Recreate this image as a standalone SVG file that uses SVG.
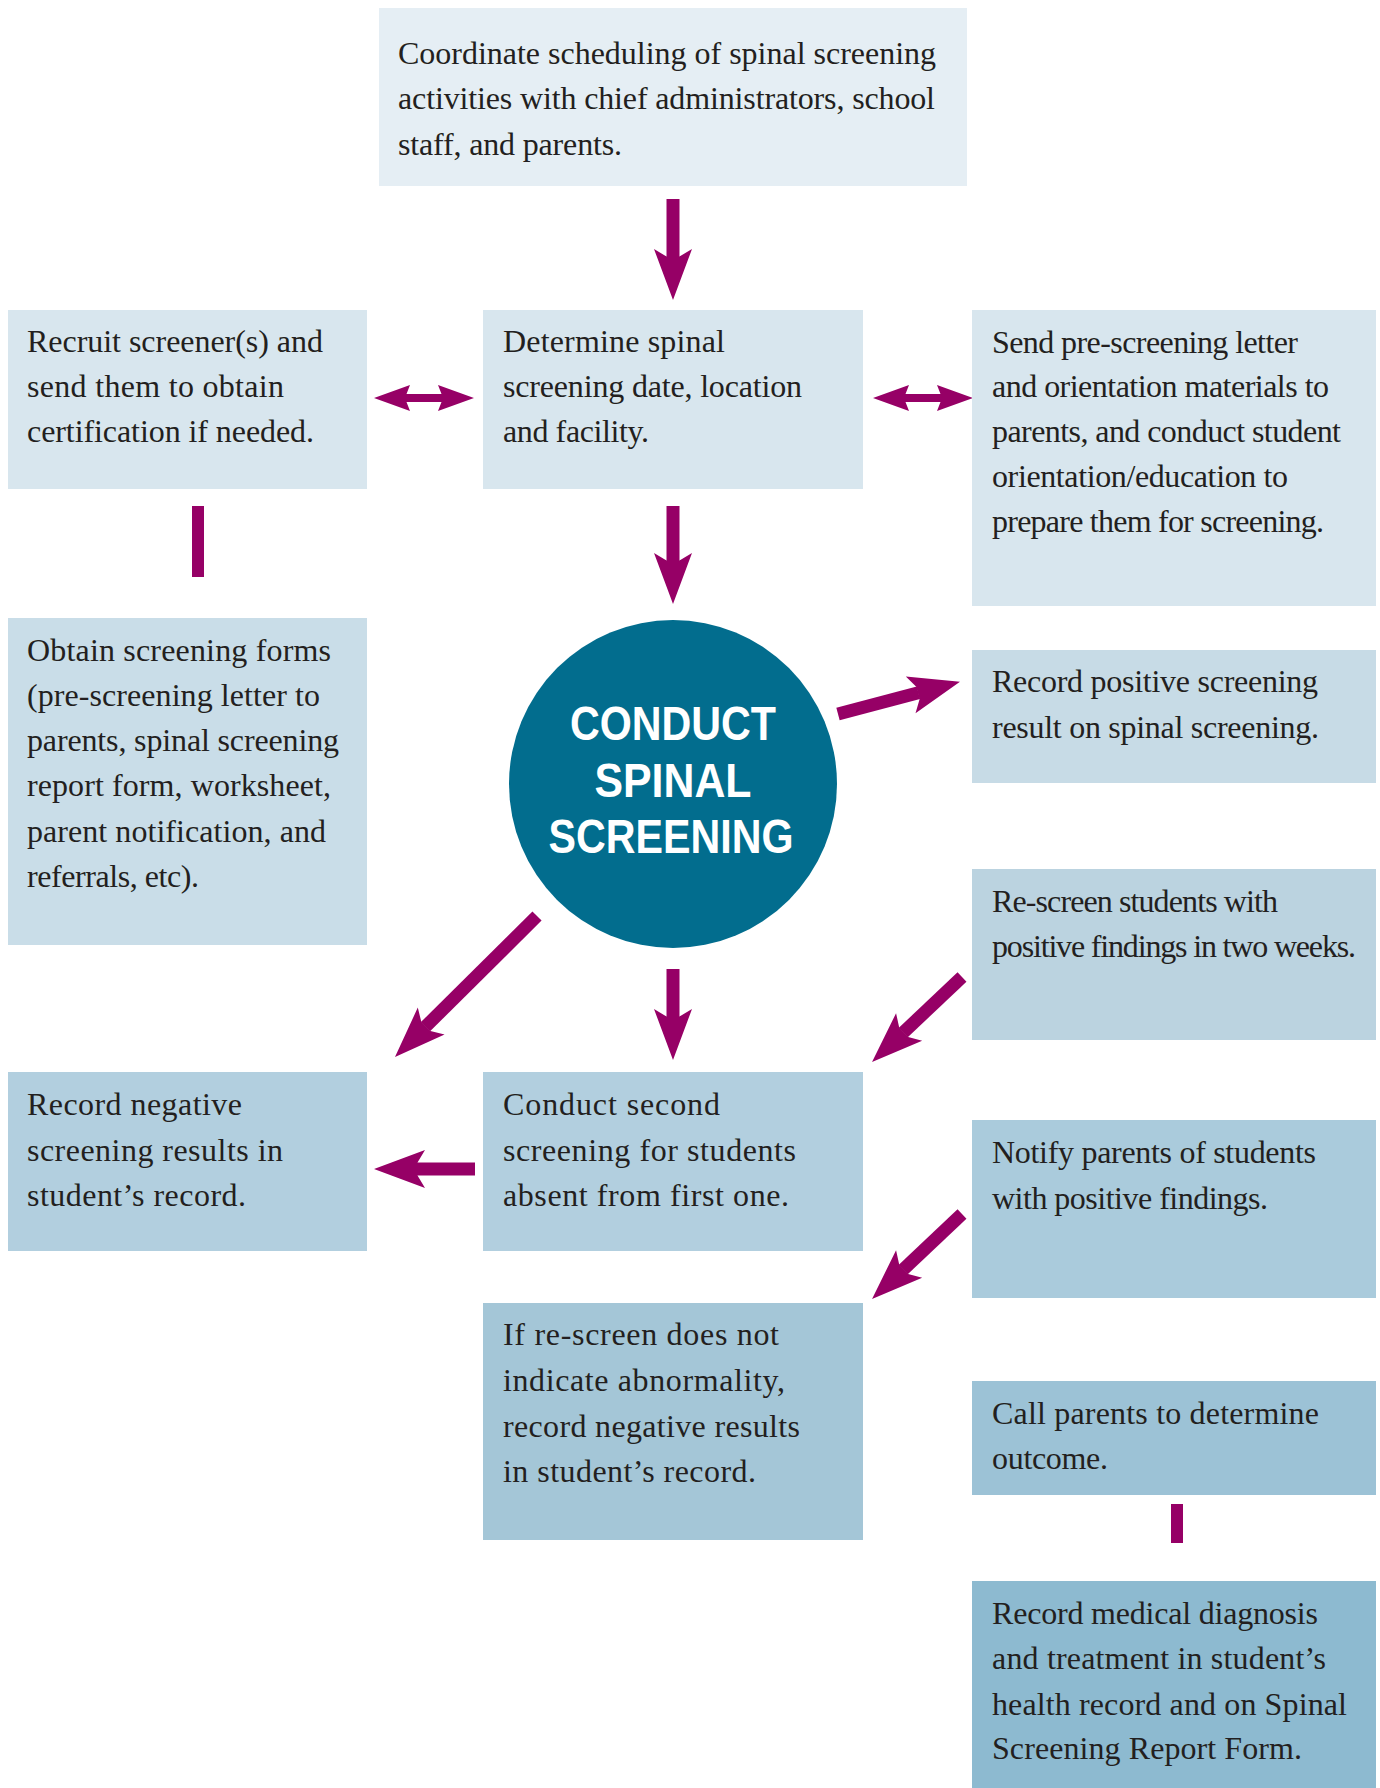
<svg xmlns="http://www.w3.org/2000/svg" width="1380" height="1788" viewBox="0 0 1380 1788">
<style>
  .t { font-family: "Liberation Serif", "Times New Roman", serif; font-size: 32px; fill: #231f20; }
  .c { font-family: "Liberation Sans", Arial, sans-serif; font-weight: bold; font-size: 49px; fill: #ffffff; text-anchor: middle; }
  .ln { stroke: #960066; stroke-width: 13; fill: none; marker-end: url(#ah); }
  .dl { stroke: #960066; stroke-width: 8; fill: none; marker-start: url(#ahs); marker-end: url(#ahs); }
  .bar { fill: #960066; }
</style>
<defs>
  <marker id="ah" markerUnits="userSpaceOnUse" orient="auto" viewBox="-10 -21 56 42" markerWidth="56" markerHeight="42" refX="0" refY="0">
    <path d="M43,0 L-8,19 L-0.5,6.5 L-0.5,-6.5 L-8,-19 Z" fill="#960066"/>
  </marker>
  <marker id="ahs" markerUnits="userSpaceOnUse" orient="auto-start-reverse" viewBox="-6 -15 40 30" markerWidth="40" markerHeight="30" refX="0" refY="0">
    <path d="M32,0 L-4,13 L-0.5,4 L-0.5,-4 L-4,-13 Z" fill="#960066"/>
  </marker>
</defs>
<rect width="1380" height="1788" fill="#ffffff"/>

<g id="connectors">
  <line class="ln" x1="673" y1="199" x2="673" y2="257"/>
  <line class="ln" x1="673" y1="506" x2="673" y2="561"/>
  <line class="dl" x1="406" y1="398" x2="442" y2="398"/>
  <line class="dl" x1="905" y1="398" x2="941" y2="398"/>
  <rect class="bar" x="192" y="506" width="12" height="71"/>
  <line class="ln" x1="838" y1="714" x2="918.4" y2="692.8"/>
  <line class="ln" x1="537" y1="916" x2="425.5" y2="1026.7"/>
  <line class="ln" x1="673" y1="969" x2="673" y2="1017"/>
  <line class="ln" x1="962" y1="977" x2="903.3" y2="1032.5"/>
  <line class="ln" x1="475" y1="1169" x2="417" y2="1169"/>
  <line class="ln" x1="962" y1="1214" x2="903.3" y2="1269.5"/>
  <rect class="bar" x="1171" y="1504" width="12" height="39"/>
</g>

<g id="n-coordinate">
  <rect x="379" y="8" width="588" height="178" fill="#e5eef4"/>
  <text class="t" x="398" y="64" textLength="538">Coordinate scheduling of spinal screening</text>
  <text class="t" x="398" y="109" textLength="537">activities with chief administrators, school</text>
  <text class="t" x="398" y="155" textLength="224">staff, and parents.</text>
</g>
<g id="n-recruit">
  <rect x="8" y="310" width="359" height="179" fill="#d8e6ee"/>
  <text class="t" x="27" y="352" textLength="296">Recruit screener(s) and</text>
  <text class="t" x="27" y="397" textLength="257">send them to obtain</text>
  <text class="t" x="27" y="442" textLength="287">certification if needed.</text>
</g>
<g id="n-determine">
  <rect x="483" y="310" width="380" height="179" fill="#d8e6ee"/>
  <text class="t" x="503" y="352" textLength="222">Determine spinal</text>
  <text class="t" x="503" y="397" textLength="299">screening date, location</text>
  <text class="t" x="503" y="442" textLength="146">and facility.</text>
</g>
<g id="n-send">
  <rect x="972" y="310" width="404" height="296" fill="#d8e6ee"/>
  <text class="t" x="992" y="353" textLength="306">Send pre-screening letter</text>
  <text class="t" x="992" y="397" textLength="337">and orientation materials to</text>
  <text class="t" x="992" y="442" textLength="349">parents, and conduct student</text>
  <text class="t" x="992" y="487" textLength="296">orientation/education to</text>
  <text class="t" x="992" y="532" textLength="332">prepare them for screening.</text>
</g>
<g id="n-obtain">
  <rect x="8" y="618" width="359" height="327" fill="#c9dde8"/>
  <text class="t" x="27" y="661" textLength="304">Obtain screening forms</text>
  <text class="t" x="27" y="706" textLength="293">(pre-screening letter to</text>
  <text class="t" x="27" y="751" textLength="312">parents, spinal screening</text>
  <text class="t" x="27" y="796" textLength="304">report form, worksheet,</text>
  <text class="t" x="27" y="842" textLength="299">parent notification, and</text>
  <text class="t" x="27" y="887" textLength="172">referrals, etc).</text>
</g>
<g id="n-conduct">
  <circle cx="673" cy="784" r="164" fill="#026d8e"/>
  <text class="c" x="673" y="740" textLength="206" lengthAdjust="spacingAndGlyphs">CONDUCT</text>
  <text class="c" x="673" y="797" textLength="157" lengthAdjust="spacingAndGlyphs">SPINAL</text>
  <text class="c" x="671" y="853" textLength="245" lengthAdjust="spacingAndGlyphs">SCREENING</text>
</g>
<g id="n-recpos">
  <rect x="972" y="650" width="404" height="133" fill="#c7dbe6"/>
  <text class="t" x="992" y="692" textLength="326">Record positive screening</text>
  <text class="t" x="992" y="738" textLength="327">result on spinal screening.</text>
</g>
<g id="n-rescreen">
  <rect x="972" y="869" width="404" height="171" fill="#bbd3e0"/>
  <text class="t" x="992" y="912" textLength="286">Re-screen students with</text>
  <text class="t" x="992" y="957" textLength="364">positive findings in two weeks.</text>
</g>
<g id="n-recneg">
  <rect x="8" y="1072" width="359" height="179" fill="#b2cfdf"/>
  <text class="t" x="27" y="1115" textLength="215">Record negative</text>
  <text class="t" x="27" y="1161" textLength="256">screening results in</text>
  <text class="t" x="27" y="1206" textLength="219">student’s record.</text>
</g>
<g id="n-second">
  <rect x="483" y="1072" width="380" height="179" fill="#b2cfdf"/>
  <text class="t" x="503" y="1115" textLength="217">Conduct second</text>
  <text class="t" x="503" y="1161" textLength="293">screening for students</text>
  <text class="t" x="503" y="1206" textLength="286">absent from first one.</text>
</g>
<g id="n-notify">
  <rect x="972" y="1120" width="404" height="178" fill="#aacbdc"/>
  <text class="t" x="992" y="1163" textLength="324">Notify parents of students</text>
  <text class="t" x="992" y="1209" textLength="276">with positive findings.</text>
</g>
<g id="n-ifre">
  <rect x="483" y="1303" width="380" height="237" fill="#a4c6d7"/>
  <text class="t" x="503" y="1345" textLength="276">If re-screen does not</text>
  <text class="t" x="503" y="1391" textLength="282">indicate abnormality,</text>
  <text class="t" x="503" y="1437" textLength="297">record negative results</text>
  <text class="t" x="503" y="1482" textLength="253">in student’s record.</text>
</g>
<g id="n-call">
  <rect x="972" y="1381" width="404" height="114" fill="#9cc2d6"/>
  <text class="t" x="992" y="1424" textLength="327">Call parents to determine</text>
  <text class="t" x="992" y="1469" textLength="116">outcome.</text>
</g>
<g id="n-recmed">
  <rect x="972" y="1581" width="404" height="207" fill="#8dbad0"/>
  <text class="t" x="992" y="1624" textLength="326">Record medical diagnosis</text>
  <text class="t" x="992" y="1669" textLength="334">and treatment in student’s</text>
  <text class="t" x="992" y="1715" textLength="355">health record and on Spinal</text>
  <text class="t" x="992" y="1759" textLength="310">Screening Report Form.</text>
</g>
</svg>
